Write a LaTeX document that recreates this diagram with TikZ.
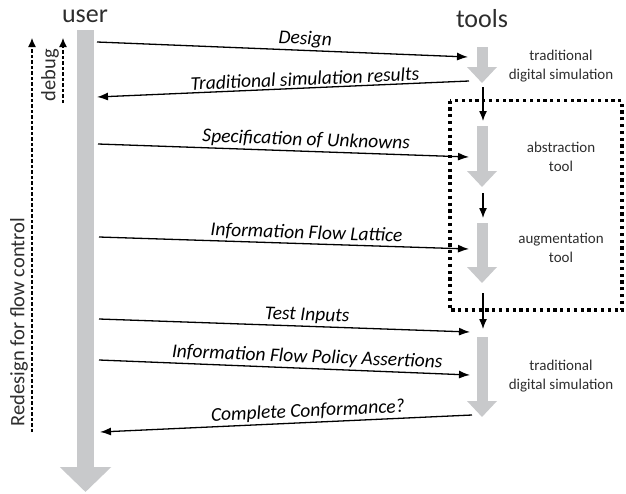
\documentclass[tikz,border=0pt]{standalone}
\usepackage{fontspec}
\setmainfont{Carlito}
\usepackage{xcolor}
\usetikzlibrary{arrows.meta}

\definecolor{barGray}{RGB}{200,201,203}
\definecolor{textGray}{RGB}{45,45,45}

\tikzset{
  lifeline/.style={barGray, line width=17pt, -{Triangle[width=50pt,length=25pt]}},
  toolbar/.style={barGray, line width=11pt, -{Triangle[width=29pt,length=16pt]}},
  msg/.style={line width=1.3pt, -{Latex[length=11pt,width=8pt]}},
  msglabel/.style={font=\fontsize{19.5}{22}\selectfont\itshape, above, sloped, pos=0.56, inner sep=2pt},
  toollabel/.style={font=\fontsize{15}{19}\selectfont, align=center, text=textGray},
  headlabel/.style={font=\fontsize{26}{30}\selectfont, anchor=base, text=textGray},
  loopback/.style={line width=1.2pt, dash pattern=on 3.5pt off 2pt, -{Latex[length=9pt,width=8pt]}},
  steparrow/.style={line width=1.3pt, -{Latex[length=10pt,width=8pt]}}
}

\begin{document}
\begin{tikzpicture}[x=1pt, y=-1pt]
        \useasboundingbox (0,0) rectangle (626,493);

        % Headers
        \node[headlabel] (user) at (85,22) {user};
        \node[headlabel] (tools) at (482,27) {tools};

        % User lifeline
        \draw[lifeline] (85.5,30) -- (85.5,492);

        % Tool stages
        \draw[toolbar] (482,47) -- (482,83);
        \draw[toolbar] (482,126) -- (482,187);
        \draw[toolbar] (482,223) -- (482,283);
        \draw[toolbar] (482,337) -- (482,417);

        \node[toollabel] (sim1) at (561,66) {traditional\\digital simulation};
        \node[toollabel] (abs) at (561,157) {abstraction\\tool};
        \node[toollabel] (aug) at (561,248) {augmentation\\tool};
        \node[toollabel] (sim2) at (561,376) {traditional\\digital simulation};

        % Steps between tools
        \coordinate (s1a) at (483,87);  \coordinate (s1b) at (483,121);
        \coordinate (s2a) at (483,193); \coordinate (s2b) at (483,218);
        \coordinate (s3a) at (483,293); \coordinate (s3b) at (483,329);
        \draw[steparrow] (s1a) -- (s1b);
        \draw[steparrow] (s2a) -- (s2b);
        \draw[steparrow] (s3a) -- (s3b);

        % Dotted box round the new tools
        \draw[line width=3.2pt, dash pattern=on 3.2pt off 3.6pt] (450,100.5) rectangle (622,310);

        % Messages
        \coordinate (u1) at (97,42);   \coordinate (t1) at (468,57);
        \coordinate (u2) at (97,97);   \coordinate (t2) at (469,81);
        \coordinate (u3) at (98,144);  \coordinate (t3) at (469,157);
        \coordinate (u4) at (99,237);  \coordinate (t4) at (469,249);
        \coordinate (u5) at (99,319);  \coordinate (t5) at (470,332);
        \coordinate (u6) at (99,360);  \coordinate (t6) at (470,375);
        \coordinate (u7) at (100,432); \coordinate (t7) at (472,415);

        \draw[msg] (u1) -- (t1) node[msglabel] {Design};
        \draw[msg] (t2) -- (u2) node[msglabel, pos=0.44] {Traditional simulation results};
        \draw[msg] (u3) -- (t3) node[msglabel] {Specification of Unknowns};
        \draw[msg] (u4) -- (t4) node[msglabel] {Information Flow Lattice};
        \draw[msg] (u5) -- (t5) node[msglabel] {Test Inputs};
        \draw[msg] (u6) -- (t6) node[msglabel] {Information Flow Policy Assertions};
        \draw[msg] (t7) -- (u7) node[msglabel, pos=0.44] {Complete Conformance?};

        % Feedback loops
        \coordinate (r1) at (32,432); \coordinate (r2) at (32,38);
        \coordinate (d1) at (63,103); \coordinate (d2) at (63,38);
        \draw[loopback] (r1) -- (r2);
        \draw[loopback] (d1) -- (d2);
        \node[rotate=90, font=\fontsize{20.5}{24}\selectfont, text=textGray] (redesign) at (19,322) {Redesign for flow control};
        \node[rotate=90, font=\fontsize{20.5}{24}\selectfont, text=textGray] (debug) at (50,75) {debug};
    \end{tikzpicture}
\end{document}
